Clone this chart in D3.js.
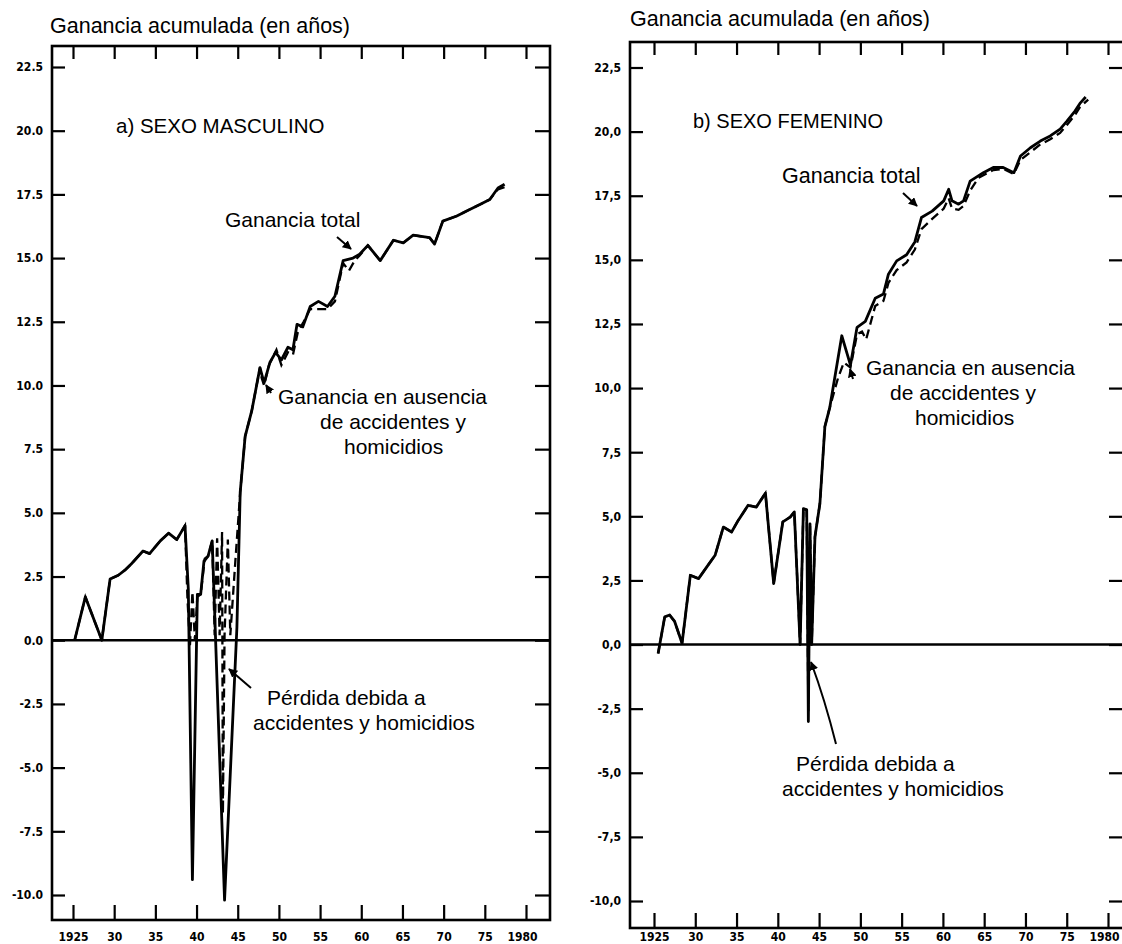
<!DOCTYPE html>
<meta charset="utf-8">
<script src="https://d3js.org/d3.v7.min.js"></script>
<style>
  body { margin: 0; background: #fff; }
  svg text { font-family: "Liberation Sans", Arial, sans-serif; fill: #000; }
  .tick text { font-family: "DejaVu Sans Condensed", "DejaVu Sans", sans-serif; font-weight: bold; }
</style>
<div id="chart"></div>
<script>
// ticks
var xTicks = [1925, 1930, 1935, 1940, 1945, 1950, 1955, 1960, 1965, 1970, 1975, 1980];
var xTickLabels = ["1925", "30", "35", "40", "45", "50", "55", "60", "65", "70", "75", "1980"];
var yTicks = [22.5, 20, 17.5, 15, 12.5, 10, 7.5, 5, 2.5, 0, -2.5, -5, -7.5, -10];

// a) sexo masculino - ganancia total (solid)
var mascTotal = [
  [1925.2, 0], [1926.5, 1.7], [1928.5, 0.0], [1929.5, 2.4], [1930.5, 2.55], [1931.3, 2.75],
  [1932.1, 3.0], [1933.5, 3.5], [1934.3, 3.4], [1935.6, 3.9], [1936.6, 4.2], [1937.6, 3.95],
  [1938.6, 4.5], [1939.0, 2.0], [1939.5, -9.4], [1940.1, 1.8], [1940.5, 1.8], [1940.9, 3.1],
  [1941.4, 3.3], [1941.9, 3.9], [1943.4, -10.2], [1944.9, 0.5], [1945.3, 5.8], [1945.9, 8.0],
  [1946.7, 9.0], [1947.7, 10.7], [1948.2, 10.1], [1948.9, 10.9], [1949.6, 11.3], [1950.3, 11.0],
  [1951.1, 11.5], [1951.7, 11.4], [1952.2, 12.4], [1952.9, 12.3], [1953.8, 13.1], [1954.8, 13.3],
  [1955.9, 13.1], [1956.8, 13.5], [1957.8, 14.9], [1959.0, 15.0], [1959.8, 15.15], [1960.8, 15.5],
  [1962.3, 14.9], [1963.9, 15.7], [1965.1, 15.6], [1966.3, 15.9], [1968.3, 15.8], [1968.9, 15.55],
  [1969.9, 16.45], [1971.6, 16.65], [1972.8, 16.85], [1974.4, 17.1], [1975.6, 17.3], [1976.6, 17.75],
  [1977.4, 17.9]
];
// a) ganancia en ausencia de accidentes y homicidios (dashed)
var mascAusencia = [
  [1925.2, 0], [1926.5, 1.7], [1928.5, 0.0], [1929.5, 2.4], [1930.5, 2.55], [1931.3, 2.75],
  [1932.1, 3.0], [1933.5, 3.5], [1934.3, 3.4], [1935.6, 3.9], [1936.6, 4.2], [1937.6, 3.95],
  [1938.6, 4.5], [1938.9, 1.6], [1939.2, -0.2], [1939.5, 1.9], [1939.8, 0.0], [1940.1, 1.7],
  [1940.5, 1.8], [1941.0, 3.2], [1941.4, 3.3], [1941.9, 3.9], [1942.2, 0.2], [1942.5, 4.0],
  [1942.8, 0.2], [1943.1, 4.25], [1943.2, -6.8], [1943.4, 0.2], [1943.8, 3.95], [1944.1, 0.2],
  [1944.7, 3.05], [1945.3, 5.8], [1945.9, 8.0], [1946.7, 9.0], [1947.7, 10.7], [1947.9, 10.3],
  [1948.2, 10.0], [1948.8, 10.8], [1949.7, 11.4], [1950.3, 10.8], [1951.1, 11.3], [1951.7, 11.2],
  [1952.3, 12.1], [1953.0, 12.5], [1953.8, 13.0], [1954.8, 13.0], [1955.9, 13.0], [1956.8, 13.3],
  [1957.8, 14.8], [1958.5, 14.5], [1959.2, 14.9], [1959.8, 15.1], [1960.8, 15.5], [1962.3, 14.9],
  [1963.9, 15.7], [1965.1, 15.6], [1966.3, 15.9], [1968.3, 15.8], [1968.9, 15.55], [1969.9, 16.45],
  [1971.6, 16.65], [1972.8, 16.85], [1974.4, 17.1], [1975.6, 17.3], [1976.6, 17.7], [1977.6, 17.8]
];

// b) sexo femenino - ganancia total (solid)
var femTotal = [
  [1925.5, -0.35], [1926.3, 1.08], [1926.9, 1.15], [1927.5, 0.9], [1928.4, 0.05], [1929.4, 2.7],
  [1930.4, 2.57], [1931.4, 3.03], [1932.4, 3.48], [1933.4, 4.58], [1934.4, 4.39], [1935.2, 4.84],
  [1936.4, 5.43], [1937.4, 5.36], [1938.5, 5.9], [1939.5, 2.38], [1940.6, 4.78], [1941.5, 4.97],
  [1942.0, 5.17], [1942.7, 0.0], [1943.1, 5.3], [1943.5, 5.25], [1943.7, -3.0], [1943.9, 4.7],
  [1944.1, 0.0], [1944.5, 4.2], [1945.1, 5.5], [1945.7, 8.5], [1946.3, 9.25], [1947.75, 12.04],
  [1948.4, 11.33], [1948.8, 10.9], [1949.6, 12.37], [1950.6, 12.6], [1951.8, 13.5], [1952.8, 13.67],
  [1953.4, 14.44], [1954.4, 14.96], [1955.6, 15.2], [1956.6, 15.7], [1957.4, 16.65], [1958.7, 16.9],
  [1960.1, 17.3], [1960.7, 17.75], [1961.1, 17.3], [1961.9, 17.17], [1962.5, 17.3], [1963.3, 18.07],
  [1964.9, 18.4], [1966.1, 18.6], [1967.3, 18.6], [1968.6, 18.4], [1969.4, 19.05], [1970.6, 19.37],
  [1971.8, 19.63], [1973.0, 19.83], [1974.2, 20.1], [1975.0, 20.4], [1976.0, 20.8], [1976.6, 21.1],
  [1977.3, 21.35]
];
// b) ganancia en ausencia (dashed)
var femAusencia = [
  [1925.5, -0.35], [1926.3, 1.08], [1926.9, 1.15], [1927.5, 0.9], [1928.4, 0.05], [1929.4, 2.7],
  [1930.4, 2.57], [1931.4, 3.03], [1932.4, 3.48], [1933.4, 4.58], [1934.4, 4.39], [1935.2, 4.84],
  [1936.4, 5.43], [1937.4, 5.36], [1938.5, 5.9], [1939.5, 2.38], [1940.6, 4.78], [1941.5, 4.97],
  [1942.0, 5.17], [1942.7, 0.0], [1943.1, 5.3], [1943.5, 5.25], [1943.7, -2.6], [1943.9, 4.7],
  [1944.1, 0.0], [1944.5, 4.2], [1945.1, 5.5], [1945.7, 8.5], [1946.3, 9.25], [1947.3, 10.4],
  [1948.0, 11.0], [1948.8, 10.8], [1949.6, 12.1], [1950.2, 12.2], [1950.7, 11.9], [1951.8, 13.2],
  [1952.8, 13.4], [1953.4, 14.1], [1954.4, 14.6], [1955.6, 14.9], [1956.6, 15.4], [1957.4, 16.2],
  [1958.7, 16.6], [1960.1, 17.0], [1960.7, 17.4], [1961.1, 17.0], [1961.9, 16.95], [1962.5, 17.1],
  [1963.3, 17.7], [1964.3, 18.2], [1964.9, 18.3], [1966.1, 18.5], [1967.3, 18.55], [1968.6, 18.35],
  [1969.4, 18.9], [1970.6, 19.2], [1971.8, 19.5], [1973.0, 19.7], [1974.2, 19.95], [1975.0, 20.25],
  [1976.0, 20.65], [1976.6, 20.95], [1977.6, 21.25]
];

var W = 1122, H = 944;
var svg = d3.select("#chart").append("svg")
  .attr("width", W).attr("height", H);

svg.append("defs").append("marker")
  .attr("id", "head")
  .attr("viewBox", "0 0 10 10")
  .attr("refX", 9).attr("refY", 5)
  .attr("markerWidth", 4.5).attr("markerHeight", 4.5)
  .attr("orient", "auto")
  .append("path").attr("d", "M0,0 L10,5 L0,10 z").attr("fill", "#000");

var panels = [
  { L: 52, R: 550, T: 46, B: 920, xr: [73, 526], yr: [67, 895], sep: ".", pad: 12,
    total: mascTotal, aus: mascAusencia, titleX: 50, titleY: 33 },
  { L: 630, R: 1124, T: 42, B: 928, xr: [654, 1108], yr: [67.5, 901], sep: ",", pad: 4,
    total: femTotal, aus: femAusencia, titleX: 630, titleY: 26 }
];

panels.forEach(function(p) {
  var x = d3.scaleLinear().domain([1925, 1980]).range(p.xr);
  var y = d3.scaleLinear().domain([22.5, -10]).range(p.yr);
  var g = svg.append("g");

  // axes, ticks pointing inwards
  g.append("g").attr("transform", "translate(0," + p.T + ")")
    .call(d3.axisTop(x).tickValues(xTicks).tickSize(-13).tickFormat(""));
  var xb = g.append("g").attr("transform", "translate(0," + p.B + ")")
    .call(d3.axisBottom(x).tickValues(xTicks).tickSize(-15).tickPadding(p.pad)
      .tickFormat(function(d, i) { return xTickLabels[i]; }));
  // keep the last label inside the page
  xb.selectAll(".tick text").filter(function(d) { return d === 1980; }).attr("dx", -4);
  g.append("g").attr("transform", "translate(" + p.L + ",0)")
    .call(d3.axisLeft(y).tickValues(yTicks).tickSize(-13).tickPadding(9)
      .tickFormat(function(d) { return d3.format(".1f")(d).replace(".", p.sep).replace("−", "-"); }));
  g.append("g").attr("transform", "translate(" + p.R + ",0)")
    .call(d3.axisRight(y).tickValues(yTicks).tickSize(-15).tickFormat(""));

  g.selectAll(".domain").remove();
  g.selectAll(".tick line").attr("stroke", "#000").attr("stroke-width", 2.2);
  g.selectAll(".tick text").attr("font-size", 12);

  // frame
  g.append("rect")
    .attr("x", p.L).attr("y", p.T)
    .attr("width", p.R - p.L).attr("height", p.B - p.T)
    .attr("fill", "none").attr("stroke", "#000").attr("stroke-width", 2.6);

  // zero line
  g.append("line")
    .attr("x1", p.L).attr("x2", p.R)
    .attr("y1", y(0)).attr("y2", y(0))
    .attr("stroke", "#000").attr("stroke-width", 2.4);

  var line = d3.line().x(function(d) { return x(d[0]); }).y(function(d) { return y(d[1]); });

  g.append("path").datum(p.aus)
    .attr("d", line)
    .attr("fill", "none").attr("stroke", "#000")
    .attr("stroke-width", 2.3).attr("stroke-dasharray", "9,5");

  g.append("path").datum(p.total)
    .attr("d", line)
    .attr("fill", "none").attr("stroke", "#000")
    .attr("stroke-width", 2.8).attr("stroke-linejoin", "round");

  g.append("text").attr("x", p.titleX).attr("y", p.titleY)
    .attr("font-size", 21.5).text("Ganancia acumulada (en años)");
});

function label(x, y, size, txt) {
  svg.append("text").attr("x", x).attr("y", y)
    .attr("font-size", size).text(txt);
}
function arrow(d) {
  svg.append("path").attr("d", d)
    .attr("fill", "none").attr("stroke", "#000").attr("stroke-width", 2)
    .attr("marker-end", "url(#head)");
}

// a) annotations
label(116, 133, 20.5, "a) SEXO MASCULINO");
label(225, 227, 21, "Ganancia total");
arrow("M337,237 L351,249");
label(278, 404, 21, "Ganancia en ausencia");
label(320, 429, 21, "de accidentes y");
label(344, 454, 21, "homicidios");
arrow("M271,393 L266,385");
label(267, 705, 21, "Pérdida debida a");
label(253, 730, 21, "accidentes y homicidios");
arrow("M251,688 L229,669");

// b) annotations
label(693, 128, 20, "b) SEXO FEMENINO");
label(782, 183, 21.5, "Ganancia total");
arrow("M903,193 L917,206");
label(866, 375, 21, "Ganancia en ausencia");
label(890, 400, 21, "de accidentes y");
label(915, 425, 21, "homicidios");
arrow("M853,379 L850,369");
label(796, 771, 21, "Pérdida debida a");
label(782, 796, 21, "accidentes y homicidios");
arrow("M836,744 Q825,700 811,662");
</script>
